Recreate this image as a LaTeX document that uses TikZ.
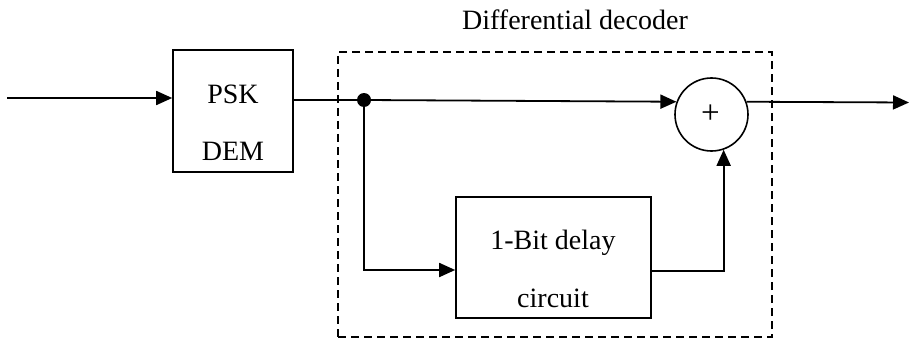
\documentclass[tikz,border=0pt]{standalone}
\usepackage{fontspec}
\setmainfont{Liberation Serif}
\usetikzlibrary{arrows.meta}
\begin{document}
\begin{tikzpicture}[x=1pt,y=-1pt,
  wire/.style={line width=1.8pt},
  arr/.style={wire,-{Triangle[length=16pt,width=14pt]}},
  blk/.style={draw,line width=1.6pt,inner sep=0pt},
  lbl/.style={font=\fontsize{28}{33}\selectfont,anchor=base,inner sep=0pt},
  grp/.style={draw,line width=1.4pt,dash pattern=on 8pt off 5pt}]
\useasboundingbox (0,0) rectangle (910,345);
% blocks
\node[blk,minimum width=120pt,minimum height=122pt] (psk) at (233,111) {};
\node[lbl] (pskA) at (233,103) {PSK};
\node[lbl] (pskB) at (233,160) {DEM};
\node[blk,minimum width=195pt,minimum height=121pt] (dly) at (553.5,257.5) {};
\node[lbl] (dlyA) at (553,249) {1-Bit delay};
\node[lbl] (dlyB) at (553,307) {circuit};
\node[blk,circle,minimum size=73pt] (sum) at (711.5,114.5) {};
\node[font=\fontsize{33}{38}\selectfont,inner sep=0pt] (plus) at (710.5,114) {+};
% differential decoder frame
\node[grp,minimum width=434pt,minimum height=285pt] (dec) at (555,194.5) {};
\node[lbl] (decl) at (575,30) {Differential decoder};
% junction and free ends
\coordinate (in) at (7,98);
\coordinate (j) at (364,100);
\coordinate (out) at (909,102.5);
\fill (j) circle (7pt);
% connections
\draw[arr] (in) -- (psk.west |- in);
\draw[wire] (psk.east |- j) -- (j);
\draw[arr] (j) -- (sum.160);
\draw[arr] (sum.20) -- (out);
\draw[arr] (j) |- (dly.west |- 0,270);
\draw[arr] (dly.east |- 0,271) -| (sum.-71.6);
\end{tikzpicture}
\end{document}
